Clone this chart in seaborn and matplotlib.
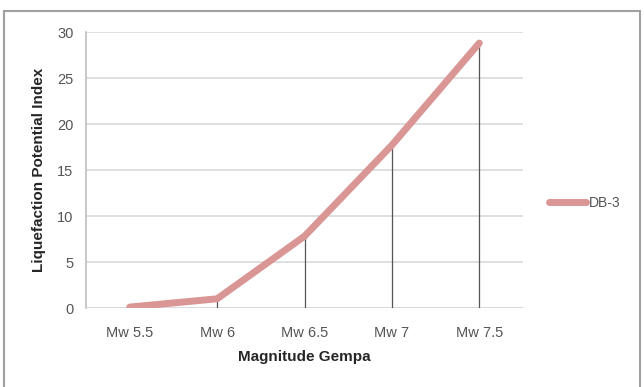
import pandas as pd
import matplotlib.pyplot as plt
import seaborn as sns
from matplotlib.patches import Rectangle

# ---- data ----
magnitudes = ['Mw 5.5', 'Mw 6', 'Mw 6.5', 'Mw 7', 'Mw 7.5']
lpi_db3 = [0.1, 1.0, 7.8, 17.7, 28.8]
y_ticks = [0, 5, 10, 15, 20, 25, 30]

df = pd.DataFrame({'Magnitude': magnitudes, 'LPI': lpi_db3})
df['pos'] = range(len(df))

sns.set_style("white")
plt.rcParams['font.family'] = ['Liberation Sans', 'DejaVu Sans']

fig = plt.figure(figsize=(6.44, 3.87), dpi=100)
ax = fig.add_axes([86 / 644, 1 - 308 / 387, 437 / 644, 276 / 387])

# outer chart border (Excel style)
fig.patches.append(Rectangle((4 / 644, -0.05), 636 / 644, 1 - 11 / 387 + 0.05,
                             transform=fig.transFigure, fill=False,
                             edgecolor='#a0a0a0', linewidth=1.5))

line_color = '#d99694'
ax.vlines(df['pos'], 0, df['LPI'], color='#555555', linewidth=0.9, zorder=2)
sns.lineplot(data=df, x='pos', y='LPI', ax=ax, color=line_color,
             linewidth=5, label='DB-3', zorder=3, sort=False)

ax.set_xlim(-0.5, len(magnitudes) - 0.5)
ax.set_ylim(0, 30)
ax.set_yticks(y_ticks)
ax.set_xticks(df['pos'])
ax.set_xticklabels(magnitudes)
ax.yaxis.grid(True, color='#d9d9d9', linewidth=1.2)
ax.set_axisbelow(True)

for side in ['top', 'right', 'bottom']:
    ax.spines[side].set_visible(False)
ax.spines['left'].set_color('#bfbfbf')
ax.spines['left'].set_linewidth(1.2)
ax.axhline(0, color='#d9d9d9', linewidth=1.2, zorder=1)

ax.tick_params(axis='y', length=5, color='#d9d9d9', labelsize=10.5, labelcolor='#555555', pad=4)
ax.tick_params(axis='x', length=0, labelsize=10.5, labelcolor='#555555', pad=13)

ax.set_xlabel('Magnitude Gempa', fontsize=11, fontweight='bold', labelpad=7)
ax.set_ylabel('Liquefaction Potential Index', fontsize=11, fontweight='bold', labelpad=8)

leg = ax.legend(loc='center left', bbox_to_anchor=(1.03, 0.38), frameon=False,
                fontsize=10, handlelength=2.7, handletextpad=0.2)
for t in leg.get_texts():
    t.set_color('#555555')

fig.savefig('out.png', dpi=100)
